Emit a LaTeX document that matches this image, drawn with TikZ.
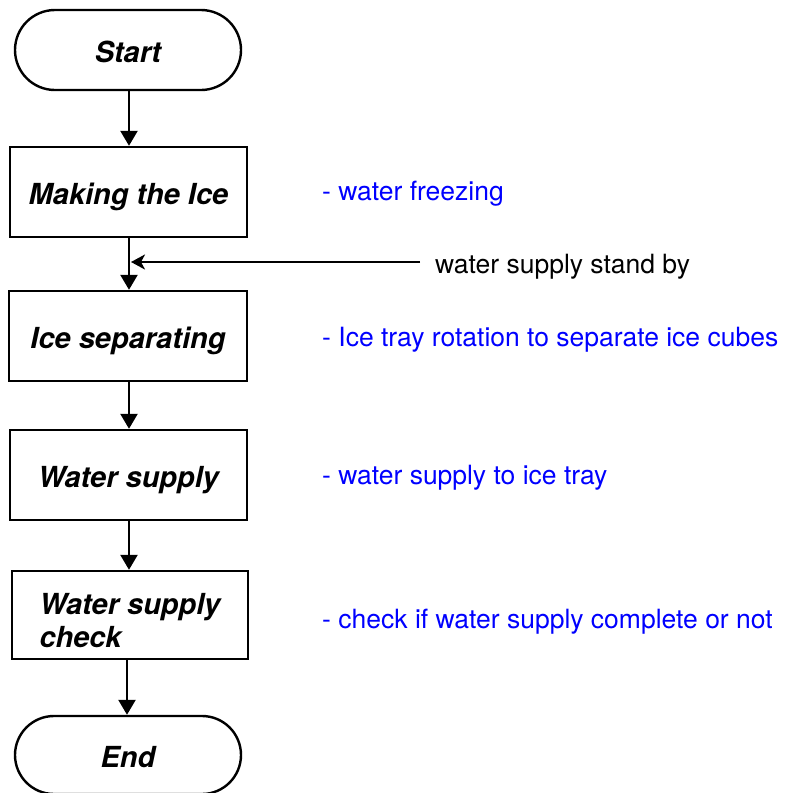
\documentclass[tikz,border=0pt]{standalone}
\usepackage{fontspec}
\setmainfont{TeX Gyre Heros}
\usetikzlibrary{arrows.meta}
\begin{document}
\begin{tikzpicture}[x=1pt,y=-1pt,
  boxbase/.style={draw=black,line width=2.4pt,minimum width=237pt,minimum height=90pt,
    font=\fontsize{29}{33}\selectfont\bfseries\itshape,inner sep=0pt},
  box/.style={boxbase,text height=24pt,text depth=0pt},
  term/.style={box,minimum width=226pt,minimum height=80pt,rounded corners=40pt},
  flow/.style={line width=2.4pt,-{Triangle[length=15pt,width=17pt]}},
  side/.style={line width=2.4pt,-{Stealth[length=14pt,width=15pt,inset=4pt]}},
  note/.style={anchor=base west,inner sep=0pt,text=blue,font=\fontsize{26.5}{30}\selectfont},
  plain/.style={anchor=base west,inner sep=0pt,text=black,font=\fontsize{26.5}{30}\selectfont}]
\useasboundingbox (0,0) rectangle (785,793);
\clip (0,0) rectangle (785,793);
\node[term] (start) at (128,50) {Start};
\node[box] (make) at (128.5,192) {Making the Ice};
\node[box,minimum width=238pt] (sep) at (128,336) {Ice separating};
\node[box] (ws) at (128.5,475) {Water supply};
\node[boxbase,minimum width=236pt,minimum height=88pt,align=left] (chk) at (130,615) {\rule{0pt}{32pt}Water supply\\[0pt]check};
\node[term,minimum height=78pt,rounded corners=39pt] (end) at (128,755) {End};
\coordinate (j) at (129,262);
\coordinate (sb) at (420,262);
\draw[flow] (start.south -| j) -- (make.north -| j);
\draw[line width=2.4pt] (make.south -| j) -- (j);
\draw[flow] (j) -- (sep.north -| j);
\draw[flow] (sep.south -| j) -- (ws.north -| j);
\draw[flow] (ws.south -| j) -- (chk.north -| j);
\draw[flow] ([xshift=-2pt]chk.south -| j) -- ([xshift=-2pt]end.north -| j);
\draw[side] (sb) -- ([xshift=2pt]j);
\node[plain] (sbl) at (435,273) {water supply stand by};
\node[note] (n1) at (322,200) {- water freezing};
\node[note] (n2) at (322,346) {- Ice tray rotation to separate ice cubes};
\node[note] (n3) at (322,484) {- water supply to ice tray};
\node[note] (n4) at (322,628) {- check if water supply complete or not};
\end{tikzpicture}
\end{document}
